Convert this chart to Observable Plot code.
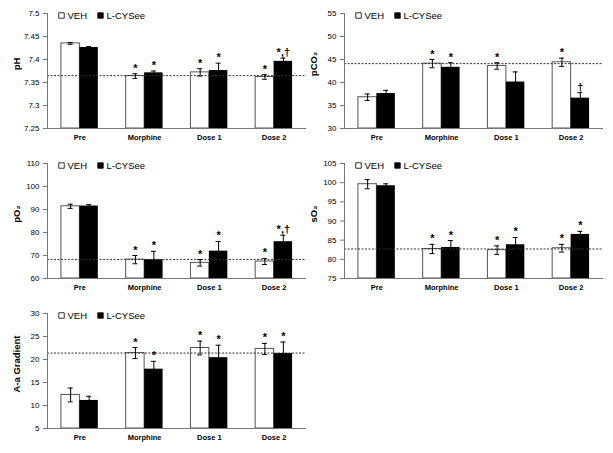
<!DOCTYPE html>
<html><head><meta charset="utf-8">
<script src="https://cdn.jsdelivr.net/npm/d3@7"></script>
<script src="https://cdn.jsdelivr.net/npm/@observablehq/plot@0.6"></script>
<style>
body{margin:0;background:#fff;}
#wrap{position:relative;width:613px;height:453px;font-family:"Liberation Sans",Arial,sans-serif;}
.panel{position:absolute;}
</style></head><body><div id="wrap"></div>
<script>
const categories = ["Pre", "Morphine", "Dose 1", "Dose 2"];
const series = ["VEH", "L-CYSee"];

// pH
const phTicks = [7.25, 7.3, 7.35, 7.4, 7.45, 7.5];
const phVeh = [7.435, 7.364, 7.372, 7.362];
const phVehErr = [0.002, 0.005, 0.008, 0.005];
const phLcy = [7.426, 7.371, 7.376, 7.396];
const phLcyErr = [0.002, 0.004, 0.016, 0.007];
const phVehSig = ["", "*", "*", "*"];
const phLcySig = ["", "*", "*", "*,†"];
const phRef = 7.365;

// pCO2
const pco2Ticks = [30, 35, 40, 45, 50, 55];
const pco2Veh = [36.8, 44.1, 43.6, 44.4];
const pco2VehErr = [0.7, 0.9, 0.7, 0.9];
const pco2Lcy = [37.6, 43.3, 40.1, 36.6];
const pco2LcyErr = [0.7, 1.0, 2.2, 1.2];
const pco2VehSig = ["", "*", "*", "*"];
const pco2LcySig = ["", "*", "", "†"];
const pco2Ref = 44.1;

// pO2
const po2Ticks = [60, 70, 80, 90, 100, 110];
const po2Veh = [91.4, 68.2, 66.8, 67.4];
const po2VehErr = [0.9, 1.8, 1.4, 1.3];
const po2Lcy = [91.5, 68.2, 71.9, 76.0];
const po2LcyErr = [0.6, 3.6, 4.2, 2.8];
const po2VehSig = ["", "*", "*", "*"];
const po2LcySig = ["", "*", "*", "*,†"];
const po2Ref = 68.3;

// sO2
const so2Ticks = [75, 80, 85, 90, 95, 100, 105];
const so2Veh = [99.6, 82.7, 82.4, 82.9];
const so2VehErr = [1.2, 1.2, 1.1, 1.0];
const so2Lcy = [99.2, 83.1, 83.8, 86.5];
const so2LcyErr = [0.5, 1.8, 1.9, 0.8];
const so2VehSig = ["", "*", "*", "*"];
const so2LcySig = ["", "*", "*", "*"];
const so2Ref = 82.7;

// A-a Gradient
const aaTicks = [5, 10, 15, 20, 25, 30];
const aaVeh = [12.3, 21.4, 22.5, 22.3];
const aaVehErr = [1.5, 1.2, 1.5, 1.2];
const aaLcy = [11.1, 17.9, 20.4, 21.3];
const aaLcyErr = [0.9, 1.7, 2.7, 2.5];
const aaVehSig = ["", "*", "*", "*"];
const aaLcySig = ["", "*", "*", "*"];
const aaRef = 21.4;

const panels = [
  {label: "pH", ticks: phTicks, veh: phVeh, vehErr: phVehErr, lcy: phLcy, lcyErr: phLcyErr, vehSig: phVehSig, lcySig: phLcySig, ref: phRef, left: 0, top: 0},
  {label: "pCO₂", ticks: pco2Ticks, veh: pco2Veh, vehErr: pco2VehErr, lcy: pco2Lcy, lcyErr: pco2LcyErr, vehSig: pco2VehSig, lcySig: pco2LcySig, ref: pco2Ref, left: 297, top: 0},
  {label: "pO₂", ticks: po2Ticks, veh: po2Veh, vehErr: po2VehErr, lcy: po2Lcy, lcyErr: po2LcyErr, vehSig: po2VehSig, lcySig: po2LcySig, ref: po2Ref, left: 0, top: 150},
  {label: "sO₂", ticks: so2Ticks, veh: so2Veh, vehErr: so2VehErr, lcy: so2Lcy, lcyErr: so2LcyErr, vehSig: so2VehSig, lcySig: so2LcySig, ref: so2Ref, left: 297, top: 150},
  {label: "A-a Gradient", ticks: aaTicks, veh: aaVeh, vehErr: aaVehErr, lcy: aaLcy, lcyErr: aaLcyErr, vehSig: aaVehSig, lcySig: aaLcySig, ref: aaRef, left: 0, top: 300}
];

const W = 306, H = 150, ML = 47, MR = 0, MT = 13, MB = 22;
const pInner = 0.43;
const step = (W - ML - MR) / categories.length;
const bw = step * (1 - pInner);
const capW = 5;
const axisColor = "#777";
const font = "'Liberation Sans', Arial, sans-serif";

const wrap = document.getElementById("wrap");

for (const p of panels) {
  const ymin = p.ticks[0], ymax = p.ticks[p.ticks.length - 1];
  const veh = categories.map((c, i) => ({cat: c, v: p.veh[i], e: p.vehErr[i], sig: p.vehSig[i]}));
  const lcy = categories.map((c, i) => ({cat: c, v: p.lcy[i], e: p.lcyErr[i], sig: p.lcySig[i]}));
  const errMarks = (rows, side) => {
    const off = side === 0 ? -bw / 4 : bw / 4;
    const cL = side === 0 ? bw / 4 - capW / 2 : 3 * bw / 4 - capW / 2;
    const cR = bw - cL - capW;
    return [
      Plot.ruleX(rows, {x: "cat", y1: d => d.v - d.e, y2: d => d.v + d.e, dx: off, stroke: "#000", strokeWidth: 1}),
      Plot.tickY(rows, {x: "cat", y: d => d.v + d.e, insetLeft: cL, insetRight: cR, stroke: "#000"}),
      Plot.tickY(rows, {x: "cat", y: d => d.v - d.e, insetLeft: cL, insetRight: cR, stroke: "#000"}),
      Plot.text(rows, {x: "cat", y: d => d.v + d.e, text: "sig", dx: off, dy: -2, lineAnchor: "bottom", fontSize: 11, fontWeight: "bold", fill: "#000"})
    ];
  };
  const chart = Plot.plot({
    width: W, height: H,
    marginLeft: ML, marginRight: MR, marginTop: MT, marginBottom: MB,
    style: {fontFamily: font, background: "transparent", overflow: "visible", color: "#000"},
    x: {domain: categories, paddingInner: pInner, paddingOuter: pInner / 2, round: false},
    y: {domain: [ymin, ymax]},
    marks: [
      Plot.barY(veh, {x: "cat", y1: ymin, y2: "v", fill: "#fff", stroke: "#555", strokeWidth: 1, insetRight: bw / 2}),
      Plot.barY(lcy, {x: "cat", y1: ymin, y2: "v", fill: "#000", insetLeft: bw / 2}),
      Plot.ruleY([p.ref], {stroke: "#333", strokeWidth: 1, strokeDasharray: "2,1.5"}),
      ...errMarks(veh, 0),
      ...errMarks(lcy, 1),
      Plot.ruleY([ymin], {stroke: axisColor}),
      Plot.frame({anchor: "left", stroke: axisColor}),
      Plot.axisY({ticks: p.ticks, tickFormat: d => String(+d.toFixed(3)), tickSize: 4, tickPadding: 4, fontSize: 8, label: null, stroke: axisColor}),
      Plot.axisX({tickSize: 0, tickPadding: 6, fontSize: 7.5, fontWeight: "bold", label: null}),
      Plot.text([p.label], {frameAnchor: "left", text: d => d, dx: -31, dy: -7, rotate: -90, textAnchor: "middle", lineAnchor: "middle", fontSize: 9.5, fontWeight: "bold", fill: "#000"}),
      Plot.dot([series[0]], {frameAnchor: "top-left", dx: 14, dy: 2, symbol: "square", r: 3.1, fill: "#fff", stroke: "#000", strokeWidth: 0.8}),
      Plot.text([series[0]], {frameAnchor: "top-left", text: d => d, dx: 20, dy: 2, textAnchor: "start", lineAnchor: "middle", fontSize: 9.5, fill: "#000"}),
      Plot.dot([series[1]], {frameAnchor: "top-left", dx: 53, dy: 2, symbol: "square", r: 3.1, fill: "#000", stroke: "#000", strokeWidth: 0.8}),
      Plot.text([series[1]], {frameAnchor: "top-left", text: d => d, dx: 59, dy: 2, textAnchor: "start", lineAnchor: "middle", fontSize: 9.5, fill: "#000"})
    ]
  });
  const div = document.createElement("div");
  div.className = "panel";
  div.style.left = p.left + "px";
  div.style.top = p.top + "px";
  div.appendChild(chart);
  wrap.appendChild(div);
}
</script></body></html>
